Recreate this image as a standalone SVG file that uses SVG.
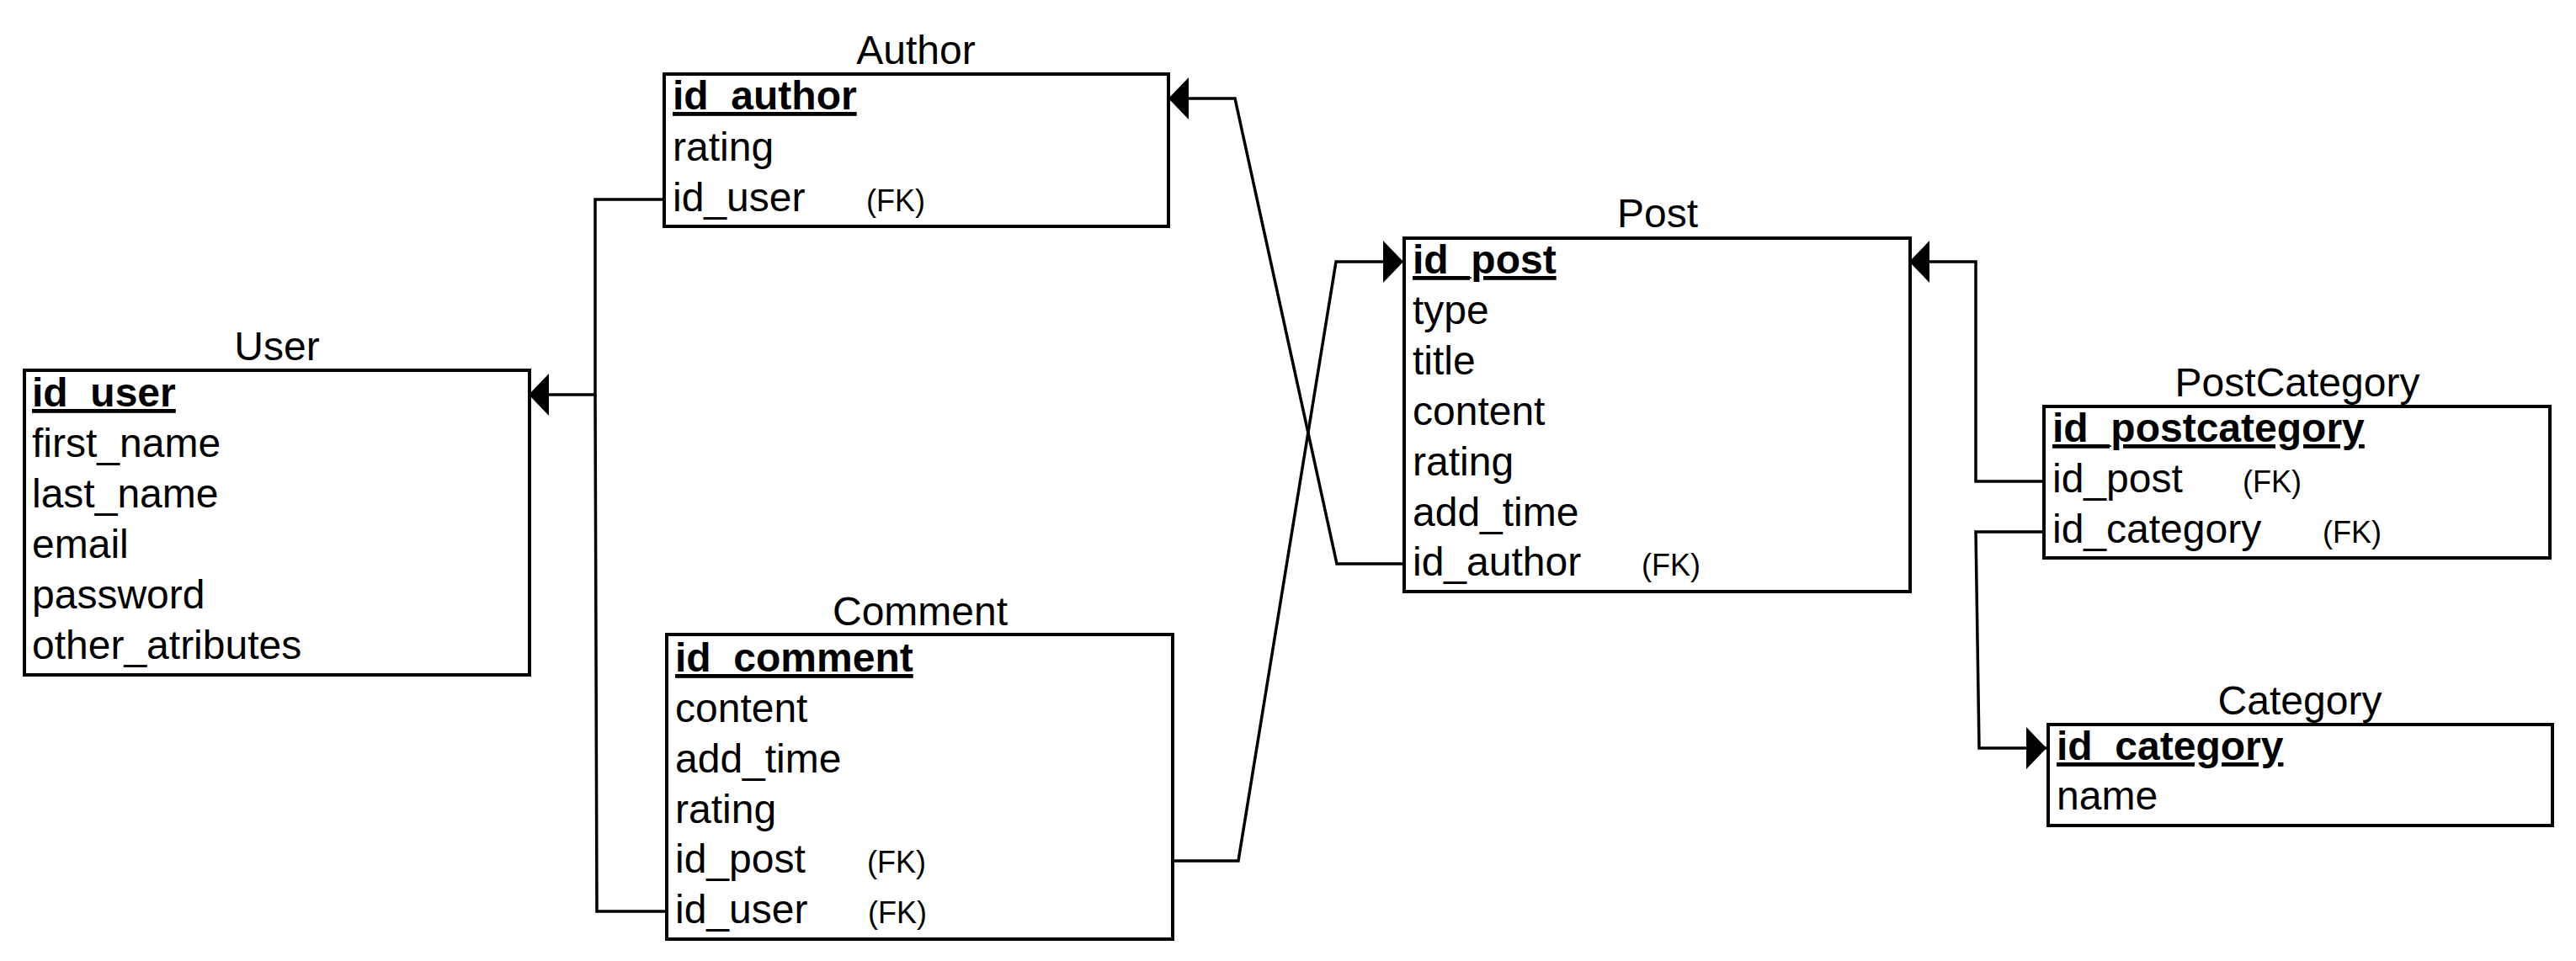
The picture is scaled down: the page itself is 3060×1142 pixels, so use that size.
<svg xmlns="http://www.w3.org/2000/svg" width="3060" height="1142" viewBox="0 0 3060 1142">
<style>
text{font-family:"Liberation Sans",Arial,sans-serif;fill:#000}
.t{font-size:48px;text-anchor:middle}
.f{font-size:48px}
.pk{font-size:48px;font-weight:bold;text-decoration:underline}
.fk{font-size:36px}
.box{fill:#fff;stroke:#000;stroke-width:4}
.c{fill:none;stroke:#000;stroke-width:3.5;stroke-linejoin:miter}
</style>
<defs>
<marker id="arr" markerUnits="userSpaceOnUse" markerWidth="30" markerHeight="54" viewBox="0 0 30 54" refX="26" refY="25" orient="auto">
<path d="M2,0 L26,25 L2,50 Z" fill="#000"/>
</marker>
</defs>
<rect width="3060" height="1142" fill="#fff"/>
<g id="connectors">
<path class="c" d="M1668,670 L1588,670 L1467,117 L1388,117" marker-end="url(#arr)"/>
<path class="c" d="M1393,1023 L1471,1023 L1587,311 L1667,311" marker-end="url(#arr)"/>
<path class="c" d="M789,237 L707,237 L707,469 L628,469" marker-end="url(#arr)"/>
<path class="c" d="M792,1083 L709,1083 L707,469"/>
<path class="c" d="M2428,572 L2347,572 L2347,311 L2268,311" marker-end="url(#arr)"/>
<path class="c" d="M2428,632 L2347,632 L2351,889 L2431,889" marker-end="url(#arr)"/>
</g>
<g id="user">
<text class="t" x="329" y="428">User</text>
<rect class="box" x="29" y="440" width="600" height="362"/>
<text class="pk" x="38" y="483">id_user</text>
<text class="f" x="38" y="543">first_name</text>
<text class="f" x="38" y="603">last_name</text>
<text class="f" x="38" y="663">email</text>
<text class="f" x="38" y="723">password</text>
<text class="f" x="38" y="783">other_atributes</text>
</g>
<g id="author">
<text class="t" x="1088" y="76">Author</text>
<rect class="box" x="789" y="88" width="599" height="181"/>
<text class="pk" x="799" y="130">id_author</text>
<text class="f" x="799" y="191">rating</text>
<text class="f" x="799" y="251">id_user</text>
<text class="fk" x="1029" y="251">(FK)</text>
</g>
<g id="comment">
<text class="t" x="1093" y="743">Comment</text>
<rect class="box" x="792" y="754" width="601" height="362"/>
<text class="pk" x="802" y="798">id_comment</text>
<text class="f" x="802" y="858">content</text>
<text class="f" x="802" y="918">add_time</text>
<text class="f" x="802" y="978">rating</text>
<text class="f" x="802" y="1037">id_post</text>
<text class="fk" x="1030" y="1037">(FK)</text>
<text class="f" x="802" y="1097">id_user</text>
<text class="fk" x="1031" y="1097">(FK)</text>
</g>
<g id="post">
<text class="t" x="1969" y="270">Post</text>
<rect class="box" x="1668" y="283" width="601" height="420"/>
<text class="pk" x="1678" y="325">id_post</text>
<text class="f" x="1678" y="385">type</text>
<text class="f" x="1678" y="445">title</text>
<text class="f" x="1678" y="505">content</text>
<text class="f" x="1678" y="565">rating</text>
<text class="f" x="1678" y="625">add_time</text>
<text class="f" x="1678" y="684">id_author</text>
<text class="fk" x="1950" y="684">(FK)</text>
</g>
<g id="postcategory">
<text class="t" x="2729" y="471">PostCategory</text>
<rect class="box" x="2428" y="483" width="601" height="180"/>
<text class="pk" x="2438" y="525">id_postcategory</text>
<text class="f" x="2438" y="585">id_post</text>
<text class="fk" x="2664" y="585">(FK)</text>
<text class="f" x="2438" y="645">id_category</text>
<text class="fk" x="2759" y="645">(FK)</text>
</g>
<g id="category">
<text class="t" x="2732" y="849">Category</text>
<rect class="box" x="2433" y="861" width="599" height="120"/>
<text class="pk" x="2443" y="903">id_category</text>
<text class="f" x="2443" y="962">name</text>
</g>
</svg>
